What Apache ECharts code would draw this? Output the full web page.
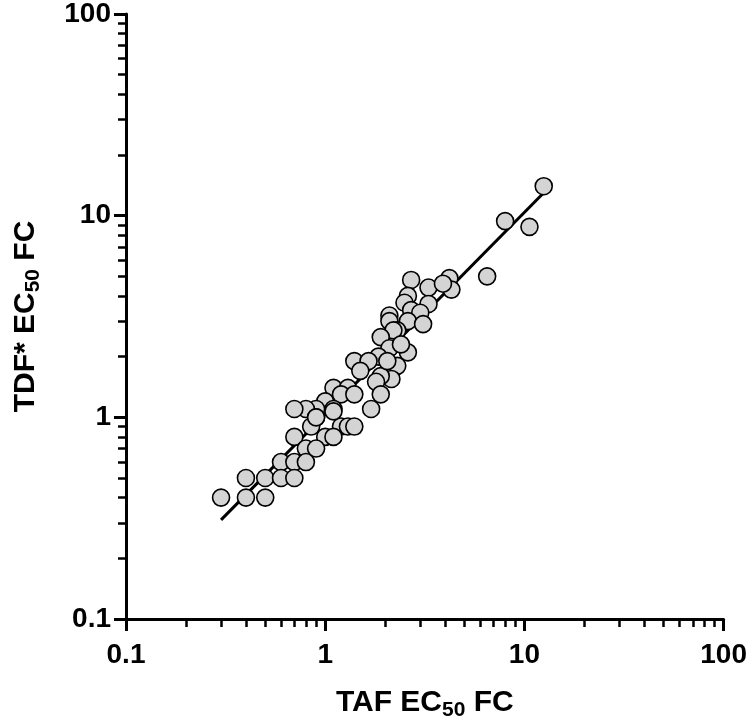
<!DOCTYPE html>
<html>
<head>
<meta charset="utf-8">
<script src="https://cdn.jsdelivr.net/npm/echarts@6/dist/echarts.min.js"></script>
<style>
  html, body { margin: 0; padding: 0; background: #fff; }
  #chart { width: 750px; height: 728px; }
</style>
</head>
<body>
<div id="chart"></div>
<script>
// TAF EC50 FC (x) vs TDF* EC50 FC (y), both log scale
const tafFC = [12.5, 8.0, 10.6, 6.5, 4.2, 4.3, 3.3, 3.3, 3.9, 2.7, 2.6, 2.5, 2.7, 3.0, 2.1, 2.1, 2.6, 3.1,
  2.3, 2.2, 1.9, 2.6, 2.1, 2.4, 1.85, 1.4, 1.65, 1.5, 2.1, 2.3, 2.15, 1.9, 1.8, 1.9, 1.7,
  1.1, 1.3, 1.2, 1.4, 1.0, 1.1, 0.9, 0.8, 0.7, 0.9, 0.85, 1.2, 1.3, 1.4, 0.7, 1.0, 1.1,
  0.8, 0.9, 0.6, 0.7, 0.8, 0.4, 0.5, 0.6, 0.7, 0.3, 0.4, 0.5, 1.1, 0.9, 2.05]
const tdfFC = [14.0, 9.4, 8.8, 5.0, 4.9, 4.3, 4.4, 3.65, 4.6, 4.8, 4.0, 3.7, 3.4, 3.3, 3.2, 3.0, 3.0, 2.9,
  2.7, 2.7, 2.5, 2.1, 2.2, 2.3, 2.0, 1.9, 1.9, 1.7, 1.7, 1.8, 1.55, 1.6, 1.5, 1.3, 1.1,
  1.4, 1.4, 1.3, 1.3, 1.2, 1.1, 1.1, 1.1, 1.1, 1.0, 0.9, 0.9, 0.9, 0.9, 0.8, 0.8, 0.8,
  0.7, 0.7, 0.6, 0.6, 0.6, 0.5, 0.5, 0.5, 0.5, 0.4, 0.4, 0.4, 1.07, 1.0, 1.9]

// regression line end points
const fitX = [0.3, 12.5]
const fitY = [0.31, 13.0]

const majorTicks = [0.1, 1, 10, 100]
const minorTicks = [0.2, 0.3, 0.4, 0.5, 0.6, 0.7, 0.8, 0.9, 2, 3, 4, 5, 6, 7, 8, 9,
  20, 30, 40, 50, 60, 70, 80, 90]

const font = "'Liberation Sans', Arial, sans-serif"
const rich = {
  t: { fontSize: 30, fontWeight: 'bold', fontFamily: font, color: '#000', lineHeight: 36 },
  s: { fontSize: 21, fontWeight: 'bold', fontFamily: font, color: '#000', lineHeight: 21, padding: [15, 0, 0, 0] }
}

function mainAxis(name, gap) {
  return {
    type: 'log', logBase: 10, min: 0.1, max: 100,
    name: name, nameLocation: 'middle', nameGap: gap,
    nameTextStyle: { rich: rich },
    axisLine: { show: true, lineStyle: { color: '#000', width: 3 } },
    axisTick: { show: true, length: 12, lineStyle: { color: '#000', width: 3 }, customValues: majorTicks },
    axisLabel: { color: '#000', fontSize: 28, fontWeight: 'bold', fontFamily: font, customValues: majorTicks,
      formatter: v => String(v) },
    splitLine: { show: false },
    minorTick: { show: false }
  }
}
function minorAxis(pos) {
  return {
    type: 'log', logBase: 10, min: 0.1, max: 100, position: pos,
    axisLine: { show: false },
    axisTick: { show: true, length: 8, lineStyle: { color: '#000', width: 2.5 }, customValues: minorTicks },
    axisLabel: { show: false },
    splitLine: { show: false }
  }
}

const chart = echarts.init(document.getElementById('chart'))
const xMain = mainAxis('{t|TAF EC}{s|50}{t| FC}', 66)
xMain.position = 'bottom'
xMain.axisLabel.margin = 22
const yMain = mainAxis('{t|TDF* EC}{s|50}{t| FC}', 82)
yMain.position = 'left'
yMain.axisLabel.margin = 15

chart.setOption({
  animation: false,
  grid: { left: 113, right: 26, top: 10, bottom: 109 },
  xAxis: [xMain, minorAxis('bottom')],
  yAxis: [yMain, minorAxis('left')],
  series: [
    {
      type: 'line',
      data: fitX.map((x, i) => [x, fitY[i]]),
      showSymbol: false,
      lineStyle: { color: '#000', width: 3 },
      z: 1
    },
    {
      type: 'scatter',
      data: tafFC.map((x, i) => [x, tdfFC[i]]),
      symbol: 'circle',
      symbolSize: 17,
      itemStyle: { color: '#d4d4d4', borderColor: '#000', borderWidth: 1.6, opacity: 1 },
      z: 2
    }
  ]
})
</script>
</body>
</html>
